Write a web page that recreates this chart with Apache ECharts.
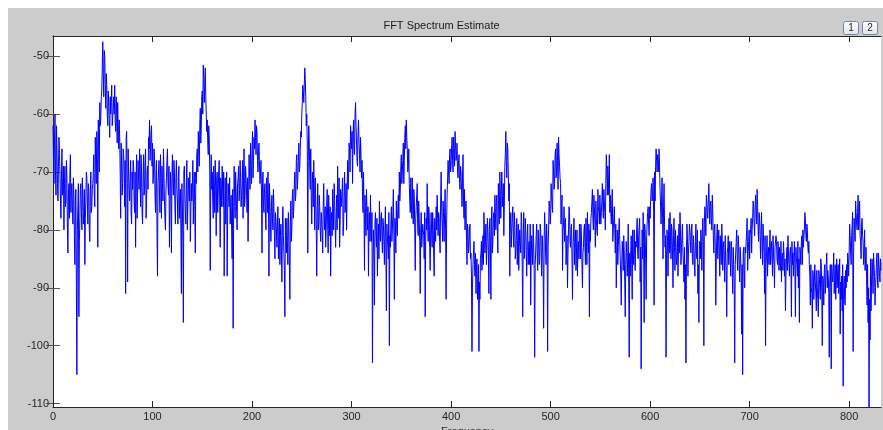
<!DOCTYPE html>
<html>
<head>
<meta charset="utf-8">
<script src="https://cdn.jsdelivr.net/npm/echarts@6/dist/echarts.min.js"></script>
<style>
html,body{margin:0;padding:0;background:#fff;}
#spectrum{width:883px;height:430px;}
</style>
</head>
<body>
<div id="spectrum"></div>
<script>
var titleText = 'FFT Spectrum Estimate';
var xName = 'Frequency';
var freqStep = 1;
var xTicks = [0, 100, 200, 300, 400, 500, 600, 700, 800];
var yTicks = [-110, -100, -90, -80, -70, -60, -50];
var xMax = 832;
var yMin = -110.6, yMax = -46.5;

// power (dB) at whole frequencies, 100 per block
var p000 = [-62,-72,-60,-74,-66,-75,-64,-70,-78,-66,-73,-80,-69,-75,-71,-84,-72,-70,-77,-72,
  -79,-74,-86,-73,-105,-76,-95,-78,-72,-80,-74,-77,-86,-75,-71,-79,-73,-82,-70,-76,
  -72,-67,-76,-69,-63,-83,-66,-58,-61,-56,-47.5,-57,-50,-59,-55,-62,-58,-64,-60,-55,
  -62,-57,-55,-63,-60,-58,-66,-64,-78,-69,-72,-67,-76,-91,-63,-89,-70,-75,-68,-79,
  -73,-69,-77,-83,-67,-74,-71,-66,-76,-70,-79,-67,-73,-66,-75,-69,-64,-61,-66,-62];
var p100 = [-65,-70,-67,-77,-68,-88,-70,-74,-67,-78,-72,-66,-75,-80,-71,-66,-74,-83,-70,-84,
  -67,-74,-70,-79,-68,-75,-71,-78,-73,-91,-76,-96,-69,-77,-73,-80,-71,-75,-82,-72,
  -73,-79,-70,-84,-72,-66,-63,-69,-59,-62,-56,-51.5,-58,-52,-60,-61,-67,-64,-87,-67,
  -70,-78,-72,-68,-81,-70,-74,-68,-83,-72,-69,-76,-88,-71,-74,-88,-72,-76,-79,-74,
  -85,-97,-69,-78,-73,-80,-71,-75,-68,-76,-72,-78,-66,-74,-71,-77,-82,-67,-73,-69];
var p200 = [-66,-71,-64,-61,-67,-63,-70,-65,-72,-68,-84,-70,-77,-72,-80,-73,-70,-88,-75,-82,
  -74,-80,-76,-85,-78,-83,-76,-82,-86,-79,-89,-76,-84,-95,-81,-78,-86,-80,-92,-75,
  -80,-73,-76,-70,-74,-67,-71,-65,-69,-63,-60,-55,-58,-52,-57,-60,-84,-62,-70,-66,
  -79,-70,-68,-80,-75,-88,-72,-79,-76,-82,-78,-84,-72,-80,-83,-76,-79,-74,-81,-88,
  -77,-73,-80,-75,-83,-74,-69,-78,-83,-73,-76,-71,-79,-70,-75,-80,-68,-71,-66,-62];
var p300 = [-66,-72,-61,-67,-58,-65,-69,-61,-67,-64,-71,-74,-70,-87,-78,-73,-80,-88,-77,-74,
  -82,-103,-80,-93,-77,-83,-88,-79,-75,-82,-77,-84,-79,-86,-76,-94,-81,-85,-100,-83,
  -76,-80,-73,-92,-79,-75,-81,-74,-70,-73,-67,-70,-65,-68,-62,-61,-66,-69,-72,-77,
  -75,-71,-79,-74,-87,-76,-72,-81,-78,-91,-77,-83,-79,-85,-95,-78,-72,-82,-77,-87,
  -77,-83,-79,-88,-80,-76,-74,-81,-78,-84,-70,-79,-75,-82,-73,-92,-74,-68,-72,-66];
var p400 = [-69,-64,-70,-66,-63,-68,-65,-71,-67,-73,-70,-76,-67,-78,-80,-75,-86,-80,-83,-79,
  -84,-101,-86,-82,-88,-91,-85,-89,-101,-92,-84,-87,-81,-77,-84,-79,-83,-80,-91,-78,
  -92,-76,-82,-77,-74,-80,-74,-84,-76,-70,-78,-70,-74,-81,-69,-63,-71,-66,-75,-88,
  -77,-80,-76,-83,-79,-84,-78,-82,-87,-80,-84,-79,-95,-77,-83,-80,-88,-79,-83,-86,
  -93,-81,-86,-82,-102,-84,-79,-87,-82,-85,-80,-88,-83,-97,-77,-84,-79,-101,-80,-76];
var p500 = [-78,-74,-77,-70,-72,-66,-70,-68,-64,-69,-72,-76,-87,-79,-82,-78,-84,-90,-80,-77,
  -83,-79,-92,-81,-86,-80,-84,-88,-82,-79,-85,-81,-90,-83,-79,-86,-82,-77,-84,-95,
  -82,-77,-73,-80,-76,-83,-78,-81,-76,-79,-74,-77,-72,-78,-75,-80,-67,-74,-71,-67,
  -74,-79,-73,-80,-76,-84,-90,-80,-83,-78,-85,-93,-82,-87,-84,-95,-82,-88,-79,-102,
  -88,-81,-92,-84,-80,-87,-83,-78,-85,-81,-89,-104,-80,-77,-96,-80,-92,-79,-76,-81];
var p600 = [-78,-73,-75,-71,-93,-75,-66,-70,-68,-66,-73,-79,-71,-85,-72,-83,-102,-80,-88,-78,
  -77,-85,-80,-90,-78,-87,-83,-85,-88,-79,-77,-86,-81,-84,-89,-92,-103,-79,-88,-82,
  -80,-84,-79,-86,-83,-88,-79,-85,-91,-96,-83,-80,-87,-78,-100,-76,-81,-75,-78,-72,
  -79,-75,-80,-77,-84,-79,-93,-81,-85,-80,-88,-84,-79,-87,-82,-89,-85,-95,-83,-86,
  -82,-88,-84,-91,-86,-103,-84,-80,-87,-83,-89,-85,-98,-105,-83,-90,-84,-80,-87,-82];
var p700 = [-85,-80,-84,-78,-76,-81,-74,-79,-76,-82,-78,-85,-77,-86,-82,-91,-100,-84,-88,-83,
  -83,-86,-82,-88,-84,-90,-83,-82,-86,-84,-83,-87,-89,-84,-82,-88,-94,-85,-87,-84,
  -88,-83,-95,-86,-88,-82,-95,-85,-88,-90,-96,-84,-82,-86,-83,-80,-78,-82,-80,-84,
  -86,-93,-90,-97,-88,-92,-89,-94,-90,-95,-88,-92,-86,-100,-89,-87,-91,-86,-90,-88,
  -102,-86,-104,-88,-87,-91,-86,-89,-90,-86,-88,-98,-92,-94,-107,-88,-93,-90,-89,-85];
var p800 = [-84,-81,-86,-79,-101,-78,-82,-77,-80,-74,-78,-81,-85,-78,-82,-84,-87,-83,-93,-96,
  -110.6,-99,-94,-85,-91,-86,-93,-88,-84,-90,-86,-89,-87];

// power (dB) at the half-step frequencies (i + 0.5)
var h000 = [-68,-65,-70,-62,-72,-69,-67,-75,-71,-74,-69,-72,-76,-68,-80,-74,-78,-67,-73,-76,
  -71,-81,-75,-90,-80,-72,-82,-73,-77,-71,-79,-73,-78,-70,-75,-72,-80,-74,-77,-73,
  -70,-74,-64,-72,-66,-61,-70,-62,-57,-52,-53,-49,-55,-53,-60,-56,-61,-57,-58,-62,
  -59,-60,-61,-57,-65,-62,-61,-70,-65,-74,-66,-70,-68,-64,-72,-66,-73,-71,-77,-70,
  -68,-75,-70,-72,-78,-68,-73,-70,-67,-77,-71,-74,-68,-78,-70,-73,-66,-68,-63,-69];
var h100 = [-72,-66,-74,-70,-80,-72,-68,-77,-71,-69,-75,-70,-78,-73,-68,-72,-69,-76,-73,-71,
  -72,-68,-76,-71,-73,-79,-69,-74,-80,-72,-82,-70,-74,-79,-68,-76,-73,-70,-77,-75,
  -68,-74,-77,-70,-67,-70,-66,-62,-65,-57,-60,-54,-55,-57,-63,-65,-62,-70,-71,-73,
  -75,-69,-77,-73,-71,-77,-70,-75,-71,-76,-73,-70,-78,-79,-70,-77,-74,-71,-76,-80,
  -73,-78,-74,-70,-77,-72,-69,-73,-71,-74,-68,-70,-76,-69,-74,-71,-75,-70,-65,-72];
var h200 = [-63,-68,-66,-64,-62,-68,-66,-69,-70,-74,-72,-76,-73,-78,-71,-77,-75,-72,-79,-76,
  -78,-73,-81,-77,-80,-79,-85,-78,-81,-83,-79,-81,-87,-78,-84,-82,-77,-85,-79,-82,
  -74,-78,-72,-75,-68,-73,-68,-70,-66,-64,-58,-56,-55,-54,-62,-65,-68,-65,-73,-75,
  -72,-76,-74,-71,-79,-76,-80,-74,-80,-77,-81,-76,-78,-76,-80,-73,-84,-77,-76,-79,
  -81,-76,-72,-79,-78,-80,-74,-71,-79,-76,-73,-81,-74,-77,-72,-74,-73,-65,-70,-64];
var h300 = [-63,-64,-66,-60,-62,-68,-63,-65,-70,-67,-68,-77,-76,-74,-81,-77,-76,-79,-82,-80,
  -77,-86,-84,-79,-81,-78,-82,-85,-80,-78,-81,-78,-82,-80,-84,-79,-83,-77,-81,-79,
  -82,-77,-80,-78,-84,-79,-76,-78,-75,-69,-72,-68,-72,-64,-66,-64,-70,-66,-75,-71,
  -78,-76,-73,-80,-78,-74,-80,-75,-82,-80,-83,-79,-81,-77,-82,-80,-79,-76,-83,-80,
  -81,-77,-84,-78,-82,-80,-78,-77,-82,-75,-76,-82,-78,-77,-80,-79,-71,-70,-67,-70];
var h400 = [-66,-68,-64,-69,-65,-67,-70,-68,-72,-69,-73,-71,-75,-73,-77,-82,-79,-84,-80,-85,
  -88,-90,-84,-86,-84,-87,-92,-86,-89,-85,-82,-85,-86,-80,-82,-86,-78,-84,-80,-82,
  -79,-84,-78,-81,-77,-75,-80,-72,-79,-74,-73,-76,-72,-76,-67,-68,-65,-70,-72,-79,
  -83,-78,-81,-77,-85,-81,-86,-79,-83,-82,-77,-86,-81,-85,-78,-84,-81,-86,-82,-79,
  -85,-83,-79,-87,-86,-81,-84,-80,-86,-79,-84,-81,-87,-82,-80,-86,-82,-83,-75,-79];
var h500 = [-72,-76,-68,-73,-67,-71,-65,-73,-67,-71,-79,-74,-80,-76,-79,-86,-81,-84,-76,-82,
  -80,-85,-83,-78,-82,-87,-80,-83,-85,-81,-79,-86,-84,-80,-83,-78,-86,-81,-79,-80,
  -78,-75,-78,-74,-79,-75,-80,-73,-77,-74,-79,-75,-76,-73,-77,-72,-70,-69,-74,-77,
  -77,-75,-82,-78,-80,-79,-84,-86,-80,-82,-88,-86,-84,-81,-89,-86,-84,-85,-90,-84,
  -84,-86,-80,-86,-84,-82,-80,-84,-81,-78,-83,-88,-85,-82,-79,-85,-81,-77,-79,-76];
var h600 = [-75,-72,-74,-77,-70,-69,-68,-67,-70,-69,-76,-75,-78,-76,-79,-81,-85,-82,-81,-84,
  -82,-79,-84,-81,-83,-80,-86,-81,-83,-84,-80,-83,-79,-86,-83,-86,-84,-81,-84,-79,
  -82,-80,-85,-81,-86,-82,-84,-80,-86,-82,-85,-82,-80,-82,-79,-77,-74,-77,-75,-76,
  -76,-78,-74,-81,-80,-83,-85,-79,-82,-84,-81,-86,-82,-83,-85,-81,-87,-84,-81,-84,
  -85,-82,-87,-83,-89,-86,-82,-85,-81,-86,-83,-88,-86,-84,-87,-83,-82,-78,-84,-80];
var h700 = [-81,-78,-80,-75,-79,-76,-77,-73,-80,-77,-81,-80,-83,-79,-84,-81,-86,-81,-84,-86,
  -80,-83,-85,-81,-86,-83,-81,-85,-82,-87,-86,-82,-85,-87,-84,-85,-88,-83,-81,-86,
  -84,-86,-82,-84,-85,-87,-83,-86,-82,-85,-83,-86,-81,-80,-83,-77,-81,-79,-83,-82,
  -88,-86,-91,-87,-92,-86,-91,-87,-92,-87,-90,-85,-91,-88,-93,-86,-89,-84,-87,-91,
  -89,-90,-86,-89,-84,-88,-92,-85,-87,-91,-85,-89,-88,-86,-90,-92,-87,-86,-84,-88];
var h800 = [-79,-84,-81,-77,-84,-80,-75,-79,-77,-80,-75,-82,-79,-81,-86,-80,-85,-88,-86,-90,
  -92,-85,-89,-87,-84,-88,-90,-85,-89,-84,-88,-85];

var whole = [].concat(p000, p100, p200, p300, p400, p500, p600, p700, p800);
var half = [].concat(h000, h100, h200, h300, h400, h500, h600, h700, h800);
var points = [];
whole.forEach(function (v, i) {
    points.push([i * freqStep, v]);
    if (i < half.length) points.push([(i + 0.5) * freqStep, half[i]]);
});

var chart = echarts.init(document.getElementById('spectrum'));

var font = 'Arial, "Liberation Sans", sans-serif';
var tickLabel = {color: '#262626', fontSize: 11, fontFamily: font};
var btnFill = {type: 'linear', x: 0, y: 0, x2: 0, y2: 1,
    colorStops: [{offset: 0, color: '#ffffff'}, {offset: 1, color: '#dfe4ea'}]};

var option = {
    backgroundColor: '#cccccc',
    animation: false,
    title: {
        text: titleText,
        left: 'center',
        top: 15,
        textStyle: {fontSize: 11, fontWeight: 'normal', color: '#1a1a1a', fontFamily: font}
    },
    graphic: [
        {type: 'rect', shape: {x: 0, y: 0, width: 883, height: 8}, style: {fill: '#ffffff'}, silent: true},
        {type: 'rect', shape: {x: 0, y: 0, width: 8, height: 430}, style: {fill: '#ffffff'}, silent: true},
        {type: 'rect', shape: {x: 843.5, y: 21.5, width: 15, height: 13, r: 2}, style: {fill: btnFill, stroke: '#6f87a3', lineWidth: 1}},
        {type: 'rect', shape: {x: 862.5, y: 21.5, width: 15, height: 13, r: 2}, style: {fill: btnFill, stroke: '#6f87a3', lineWidth: 1}},
        {type: 'text', x: 851, y: 28, style: {text: '1', fontSize: 10, fill: '#222', align: 'center', verticalAlign: 'middle', fontFamily: font}},
        {type: 'text', x: 870, y: 28, style: {text: '2', fontSize: 10, fill: '#222', align: 'center', verticalAlign: 'middle', fontFamily: font}}
    ],
    grid: {
        left: 53,
        top: 36,
        width: 828,
        height: 371,
        outerBoundsMode: 'none',
        containLabel: false,
        show: true,
        backgroundColor: '#ffffff',
        borderWidth: 0
    },
    xAxis: [
        {
            type: 'value',
            min: 0,
            max: xMax,
            name: xName,
            nameLocation: 'middle',
            nameGap: 17,
            nameTextStyle: tickLabel,
            axisLine: {lineStyle: {color: '#262626', width: 1}},
            axisTick: {inside: true, length: 6, customValues: xTicks, lineStyle: {color: '#262626'}},
            axisLabel: Object.assign({margin: 4, customValues: xTicks}, tickLabel),
            splitLine: {show: false}
        },
        {
            type: 'value',
            position: 'top',
            min: 0,
            max: xMax,
            axisLine: {lineStyle: {color: '#262626', width: 1}},
            axisTick: {inside: true, length: 6, customValues: xTicks, lineStyle: {color: '#262626'}},
            axisLabel: {show: false},
            splitLine: {show: false}
        }
    ],
    yAxis: [
        {
            type: 'value',
            min: yMin,
            max: yMax,
            axisLine: {show: true, lineStyle: {color: '#262626', width: 1}},
            axisTick: {show: true, inside: true, length: 7, customValues: yTicks, lineStyle: {color: '#555'}},
            axisLabel: Object.assign({margin: 4, customValues: yTicks}, tickLabel),
            splitLine: {show: false}
        },
        {
            type: 'value',
            position: 'right',
            min: yMin,
            max: yMax,
            axisLine: {show: true, lineStyle: {color: '#262626', width: 1}},
            axisTick: {show: true, inside: true, length: 7, customValues: yTicks, lineStyle: {color: '#555'}},
            axisLabel: {show: false},
            splitLine: {show: false}
        }
    ],
    series: [
        {
            name: 'spectrum',
            type: 'line',
            data: points,
            showSymbol: false,
            symbol: 'none',
            sampling: null,
            lineStyle: {color: '#0000ff', width: 1},
            clip: true
        }
    ]
};

chart.setOption(option);
</script>
</body>
</html>
